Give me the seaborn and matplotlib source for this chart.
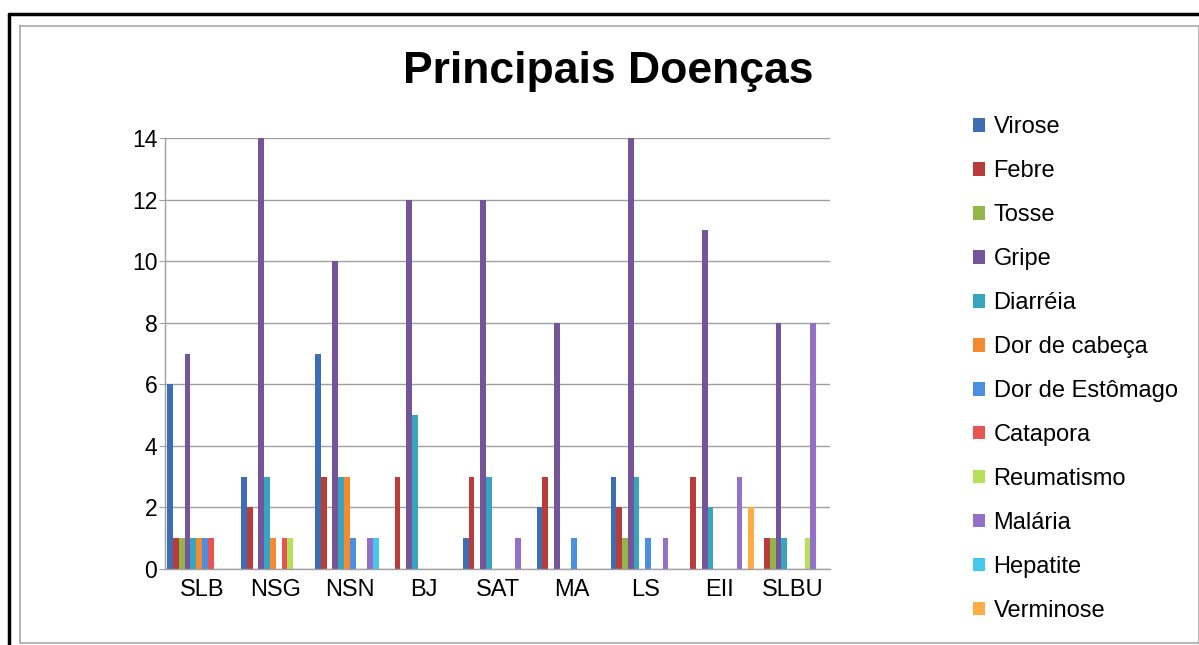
import matplotlib
matplotlib.use("Agg")
import matplotlib.pyplot as plt
from matplotlib.lines import Line2D
import seaborn as sns
import pandas as pd

categories = ["SLB", "NSG", "NSN", "BJ", "SAT", "MA", "LS", "EII", "SLBU"]
series_names = ["Virose", "Febre", "Tosse", "Gripe", "Diarréia", "Dor de cabeça",
                "Dor de Estômago", "Catapora", "Reumatismo", "Malária", "Hepatite", "Verminose"]

virose       = [6, 3, 7, 0, 1, 2, 3, 0, 0]
febre        = [1, 2, 3, 3, 3, 3, 2, 3, 1]
tosse        = [1, 0, 0, 0, 0, 0, 1, 0, 1]
gripe        = [7, 14, 10, 12, 12, 8, 14, 11, 8]
diarreia     = [1, 3, 3, 5, 3, 0, 3, 2, 1]
dor_cabeca   = [1, 1, 3, 0, 0, 0, 0, 0, 0]
dor_estomago = [1, 0, 1, 0, 0, 1, 1, 0, 0]
catapora     = [1, 1, 0, 0, 0, 0, 0, 0, 0]
reumatismo   = [0, 1, 0, 0, 0, 0, 0, 0, 1]
malaria      = [0, 0, 1, 0, 1, 0, 1, 3, 8]
hepatite     = [0, 0, 1, 0, 0, 0, 0, 0, 0]
verminose    = [0, 0, 0, 0, 0, 0, 0, 2, 0]

all_values = [virose, febre, tosse, gripe, diarreia, dor_cabeca, dor_estomago,
              catapora, reumatismo, malaria, hepatite, verminose]
colors = ["#3d6eb4", "#b83d3a", "#93b54a", "#75559a", "#37a4c0", "#f58a32",
          "#4a8fe0", "#e85452", "#b4e05a", "#9470c8", "#45c8ee", "#ffad42"]

rows = []
for name, vals in zip(series_names, all_values):
    for c, v in zip(categories, vals):
        rows.append({"Local": c, "Doença": name, "Casos": v})
df = pd.DataFrame(rows)

sns.set_style("white")
plt.rcParams["font.family"] = ["Liberation Sans", "DejaVu Sans"]
plt.rcParams["text.color"] = "black"
plt.rcParams["xtick.color"] = "black"
plt.rcParams["ytick.color"] = "black"

fig = plt.figure(figsize=(11.99, 6.45), dpi=100)
ax = fig.add_axes([165/1199, 1-569/645, (830-165)/1199, (569-138)/645])

sns.barplot(data=df, x="Local", y="Casos", hue="Doença", order=categories,
            hue_order=series_names, palette=colors, width=0.94, ax=ax,
            errorbar=None, saturation=1, edgecolor="none", linewidth=0)

ax.set_ylim(0, 14)
ax.set_yticks(range(0, 15, 2))
ax.yaxis.grid(True, color="#a0a0a0", linewidth=1)
ax.set_axisbelow(True)
ax.set_xlabel("")
ax.set_ylabel("")
ax.set_xlim(-0.5, len(categories) - 0.5)
for s in ["top", "right"]:
    ax.spines[s].set_visible(False)
for s in ["left", "bottom"]:
    ax.spines[s].set_color("#a0a0a0")
    ax.spines[s].set_linewidth(1)
ax.tick_params(axis="y", labelsize=16.5, length=4, color="#a0a0a0", labelcolor="black",
               left=True, pad=1.5)
ax.tick_params(axis="x", labelsize=17, length=0, pad=7, labelcolor="black")

handles, labels = ax.get_legend_handles_labels()
ax.legend_.remove()
fig.legend(handles, labels, loc="upper left", bbox_to_anchor=(964/1199, 1-107/645),
           frameon=False, fontsize=17, handlelength=0.5, handleheight=0.5,
           handletextpad=0.35, labelspacing=0.93, borderaxespad=0, labelcolor="black")

fig.text(608/1199, 1-71/645, "Principais Doenças", ha="center", va="center",
         fontsize=32, fontweight="bold", color="black")

# outer frames
fig.add_artist(Line2D([9/1199, 1], [1-14/645, 1-14/645], color="black", linewidth=2.5,
                      transform=fig.transFigure))
fig.add_artist(Line2D([9/1199, 9/1199], [1-14/645, 0], color="black", linewidth=2.5,
                      transform=fig.transFigure))
fig.add_artist(Line2D([20/1199, 1, 1, 20/1199, 20/1199],
                      [1-26/645, 1-26/645, 1-643/645, 1-643/645, 1-26/645],
                      color="#a8a8a8", linewidth=1.2, transform=fig.transFigure))

fig.savefig("out.png", dpi=100, facecolor="white")
